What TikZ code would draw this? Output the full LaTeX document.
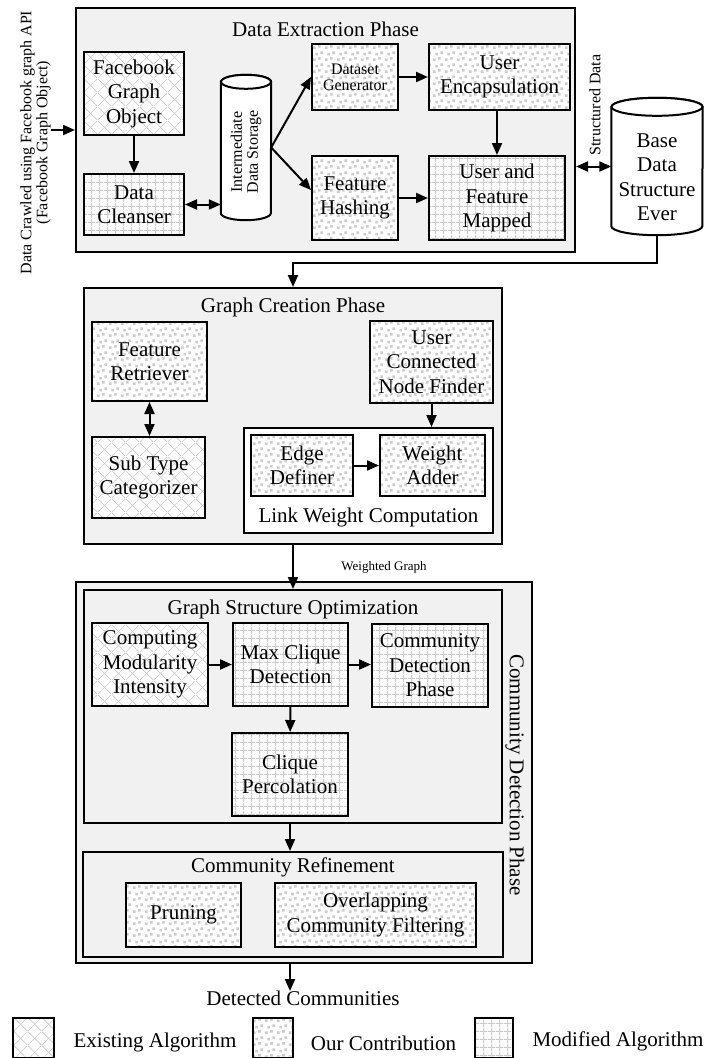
\documentclass[tikz,border=0pt]{standalone}
\usepackage{fontspec}
\setmainfont{Liberation Serif}
\usetikzlibrary{arrows.meta, positioning, patterns, calc}

\definecolor{panel}{gray}{0.945}
\definecolor{hatch}{gray}{0.8}

\newcommand{\bigtxt}{\fontsize{21}{24.5}\selectfont}
\newcommand{\midtxt}{\fontsize{16}{16}\selectfont}
\newcommand{\smalltxt}{\fontsize{13}{15}\selectfont}

\pgfdeclarepatternformonly{xhatch}{\pgfqpoint{0pt}{0pt}}{\pgfqpoint{14pt}{14pt}}{\pgfqpoint{14pt}{14pt}}{%
  \pgfsetlinewidth{0.7pt}
  \pgfpathmoveto{\pgfqpoint{0pt}{0pt}}\pgfpathlineto{\pgfqpoint{14pt}{14pt}}
  \pgfpathmoveto{\pgfqpoint{0pt}{14pt}}\pgfpathlineto{\pgfqpoint{14pt}{0pt}}
  \pgfusepath{stroke}}
\pgfdeclarepatternformonly{gridlines}{\pgfqpoint{0pt}{0pt}}{\pgfqpoint{8pt}{8pt}}{\pgfqpoint{8pt}{8pt}}{%
  \pgfsetlinewidth{1.1pt}
  \pgfpathmoveto{\pgfqpoint{0pt}{4pt}}\pgfpathlineto{\pgfqpoint{8pt}{4pt}}
  \pgfpathmoveto{\pgfqpoint{4pt}{0pt}}\pgfpathlineto{\pgfqpoint{4pt}{8pt}}
  \pgfusepath{stroke}}
\pgfdeclarepatternformonly{specks}{\pgfqpoint{0pt}{0pt}}{\pgfqpoint{12pt}{12pt}}{\pgfqpoint{12pt}{12pt}}{%
  \pgfpathrectangle{\pgfqpoint{1pt}{1pt}}{\pgfqpoint{2.8pt}{2.8pt}}
  \pgfpathrectangle{\pgfqpoint{6.5pt}{2.5pt}}{\pgfqpoint{2.8pt}{2.8pt}}
  \pgfpathrectangle{\pgfqpoint{3.5pt}{7pt}}{\pgfqpoint{2.8pt}{2.8pt}}
  \pgfpathrectangle{\pgfqpoint{9pt}{8.5pt}}{\pgfqpoint{2.8pt}{2.8pt}}
  \pgfusepath{fill}}

\begin{document}
\begin{tikzpicture}[x=1pt, y=-1pt,
    phase/.style={draw, line width=2pt, fill=panel, inner sep=0pt},
    blk/.style={draw, line width=2pt, align=center, inner sep=0pt, font=\bigtxt, preaction={fill=white}},
    exist/.style={blk, pattern=xhatch, pattern color=hatch},
    contrib/.style={blk, pattern=specks, pattern color=hatch},
    modif/.style={blk, pattern=gridlines, pattern color=hatch},
    phasetitle/.style={font=\bigtxt, inner sep=0pt},
    drum/.style={line width=2pt, fill=white},
    arr/.style={-{Triangle[length=12pt,width=10pt]}, line width=2pt},
    dbl/.style={{Triangle[length=12pt,width=10pt]}-{Triangle[length=12pt,width=10pt]}, line width=2pt}]
    \useasboundingbox (0,0) rectangle (704,1058);

    \node (extr) [phase, minimum width=499pt, minimum height=244pt] at (325.5,130) {};
    \node (extrtitle) [phasetitle] at (325.5,29) {Data Extraction Phase};
    \node (crawl) [rotate=90, font=\midtxt, align=center, inner sep=0pt] at (35.5,142.5) {Data Crawled using Facebook graph API\\(Facebook Graph Object)};
    \node (fbo) [exist, minimum width=100pt, minimum height=83pt] at (134,93.5) {Facebook\\Graph\\Object};
    \node (clean) [modif, minimum width=100pt, minimum height=61pt] at (134,204.5) {Data\\Cleanser};
    \node (store) [minimum width=50pt, minimum height=145pt, inner sep=0pt] at (246,147.5) {};
    \draw[drum] ([yshift=-7pt]store.north west) -- ([yshift=7pt]store.south west)
        arc[start angle=180, end angle=360, x radius=25pt, y radius=7pt]
        -- ([yshift=-7pt]store.north east)
        arc[start angle=0, end angle=180, x radius=25pt, y radius=7pt] -- cycle;
    \draw[drum] ([yshift=-7pt]store.north) ellipse[x radius=25pt, y radius=7pt];
    \node (storelbl) [rotate=90, font=\midtxt, align=center, inner sep=0pt] at (246,152) {Intermediate\\Data Storage};
    \node (dsgen) [contrib, font=\midtxt, minimum width=86pt, minimum height=66pt] at (355,77) {Dataset\\Generator};
    \node (hash) [contrib, minimum width=86pt, minimum height=84pt] at (355,198) {Feature\\Hashing};
    \node (encap) [contrib, minimum width=141pt, minimum height=66pt] at (499.5,77) {User\\Encapsulation};
    \node (mapped) [modif, minimum width=136pt, minimum height=84pt] at (497,198) {User and\\Feature\\Mapped};
    \node (structlbl) [rotate=90, font=\midtxt, inner sep=0pt] at (595,105) {Structured Data};
    \node (base) [minimum width=91pt, minimum height=137pt, inner sep=0pt] at (657,166.5) {};
    \draw[drum] ([yshift=-9pt]base.north west) -- ([yshift=9pt]base.south west)
        arc[start angle=180, end angle=360, x radius=45.5pt, y radius=9pt]
        -- ([yshift=-9pt]base.north east)
        arc[start angle=0, end angle=180, x radius=45.5pt, y radius=9pt] -- cycle;
    \draw[drum] ([yshift=-9pt]base.north) ellipse[x radius=45.5pt, y radius=9pt];
    \node (baselbl) [font=\bigtxt, align=center, inner sep=0pt] at (657,177) {Base\\Data\\Structure\\Ever};

    \node (gc) [phase, minimum width=418pt, minimum height=256pt] at (293,416) {};
    \node (gctitle) [phasetitle] at (293,307) {Graph Creation Phase};
    \node (fret) [contrib, minimum width=115pt, minimum height=79pt] at (149.5,361.5) {Feature\\Retriever};
    \node (subt) [exist, minimum width=113pt, minimum height=81pt] at (148.5,477.5) {Sub Type\\Categorizer};
    \node (ucnf) [contrib, minimum width=123pt, minimum height=82pt] at (431.5,362) {User\\Connected\\Node Finder};
    \node (lwc) [draw, line width=2pt, fill=white, minimum width=249pt, minimum height=105pt] at (368.5,480.5) {};
    \node (edgedef) [contrib, minimum width=102pt, minimum height=61pt] at (302,465.5) {Edge\\Definer};
    \node (wadd) [contrib, minimum width=105pt, minimum height=61pt] at (432.5,465.5) {Weight\\Adder};
    \node (lwctitle) [phasetitle] at (368.5,517) {Link Weight Computation};
    \node (wglbl) [font=\smalltxt, inner sep=0pt] at (384,567) {Weighted Graph};

    \node (cd) [phase, minimum width=456pt, minimum height=381pt] at (304,772.5) {};
    \node (cdlbl) [rotate=-90, font=\bigtxt, inner sep=0pt] at (515,775) {Community Detection Phase};
    \node (gso) [phase, minimum width=418pt, minimum height=233pt] at (293,706.5) {};
    \node (gsotitle) [phasetitle] at (293,609) {Graph Structure Optimization};
    \node (cmi) [exist, minimum width=116pt, minimum height=83pt] at (150,664.5) {Computing\\Modularity\\Intensity};
    \node (mcd) [modif, minimum width=115pt, minimum height=83pt] at (290.5,664.5) {Max Clique\\Detection};
    \node (cdp) [modif, minimum width=116pt, minimum height=83pt] at (430,665.5) {Community\\Detection\\Phase};
    \node (cp) [modif, minimum width=116pt, minimum height=83pt] at (290,774.5) {Clique\\Percolation};
    \node (cr) [phase, minimum width=420pt, minimum height=105pt] at (293,904.5) {};
    \node (crtitle) [phasetitle] at (293,867) {Community Refinement};
    \node (prun) [contrib, minimum width=115pt, minimum height=64pt] at (183.5,915) {Pruning};
    \node (ocf) [contrib, minimum width=201pt, minimum height=64pt] at (375.5,915) {Overlapping\\Community Filtering};
    \node (det) [font=\bigtxt, inner sep=0pt, anchor=north] at (303,991) {Detected Communities};

    \node (legexist) [exist, minimum width=41pt, minimum height=40pt] at (33.5,1038) {};
    \node (legexisttxt) [font=\bigtxt, inner sep=0pt, anchor=base] at (155,1047) {Existing Algorithm};
    \node (legcontrib) [contrib, minimum width=40pt, minimum height=40pt] at (273,1038) {};
    \node (legcontribtxt) [font=\bigtxt, inner sep=0pt, anchor=base] at (383.5,1050) {Our Contribution};
    \node (legmodif) [modif, minimum width=38pt, minimum height=40pt] at (494,1038) {};
    \node (legmodiftxt) [font=\bigtxt, inner sep=0pt, anchor=base] at (618,1046) {Modified Algorithm};

    \draw[arr] (crawl.south |- extr.west) -- (extr.west);
    \draw[arr] (fbo) -- (clean);
    \draw[dbl] (clean.east) -- (clean.east -| store.west);
    \draw[arr] (store.east) -- (dsgen.west);
    \draw[arr] (store.east) -- ([yshift=8pt]hash.west);
    \draw[arr] (dsgen) -- (encap);
    \draw[arr] (hash) -- (mapped);
    \draw[arr] (encap.south -| mapped.north) -- (mapped.north);
    \draw[dbl] (extr.east |- base.center) -- (base);
    \draw[arr] (base.south) -- ++(0,28) -| (gc.north);

    \draw[dbl] (fret.south) -- (fret.south |- subt.north);
    \draw[arr] (ucnf.south) -- (ucnf.south |- lwc.north);
    \draw[arr] (edgedef) -- (wadd);
    \draw[arr] (gc.south) -- (gc.south |- gso.north);

    \draw[arr] (cmi) -- (mcd);
    \draw[arr] (mcd.east) -- (mcd.east -| cdp.west);
    \draw[arr] (mcd) -- (cp);
    \draw[arr] (cp.south |- gso.south) -- (cp.south |- cr.north);
    \draw[arr] (cp.south |- cd.south) -- (cp.south |- det.north);
\end{tikzpicture}
\end{document}
